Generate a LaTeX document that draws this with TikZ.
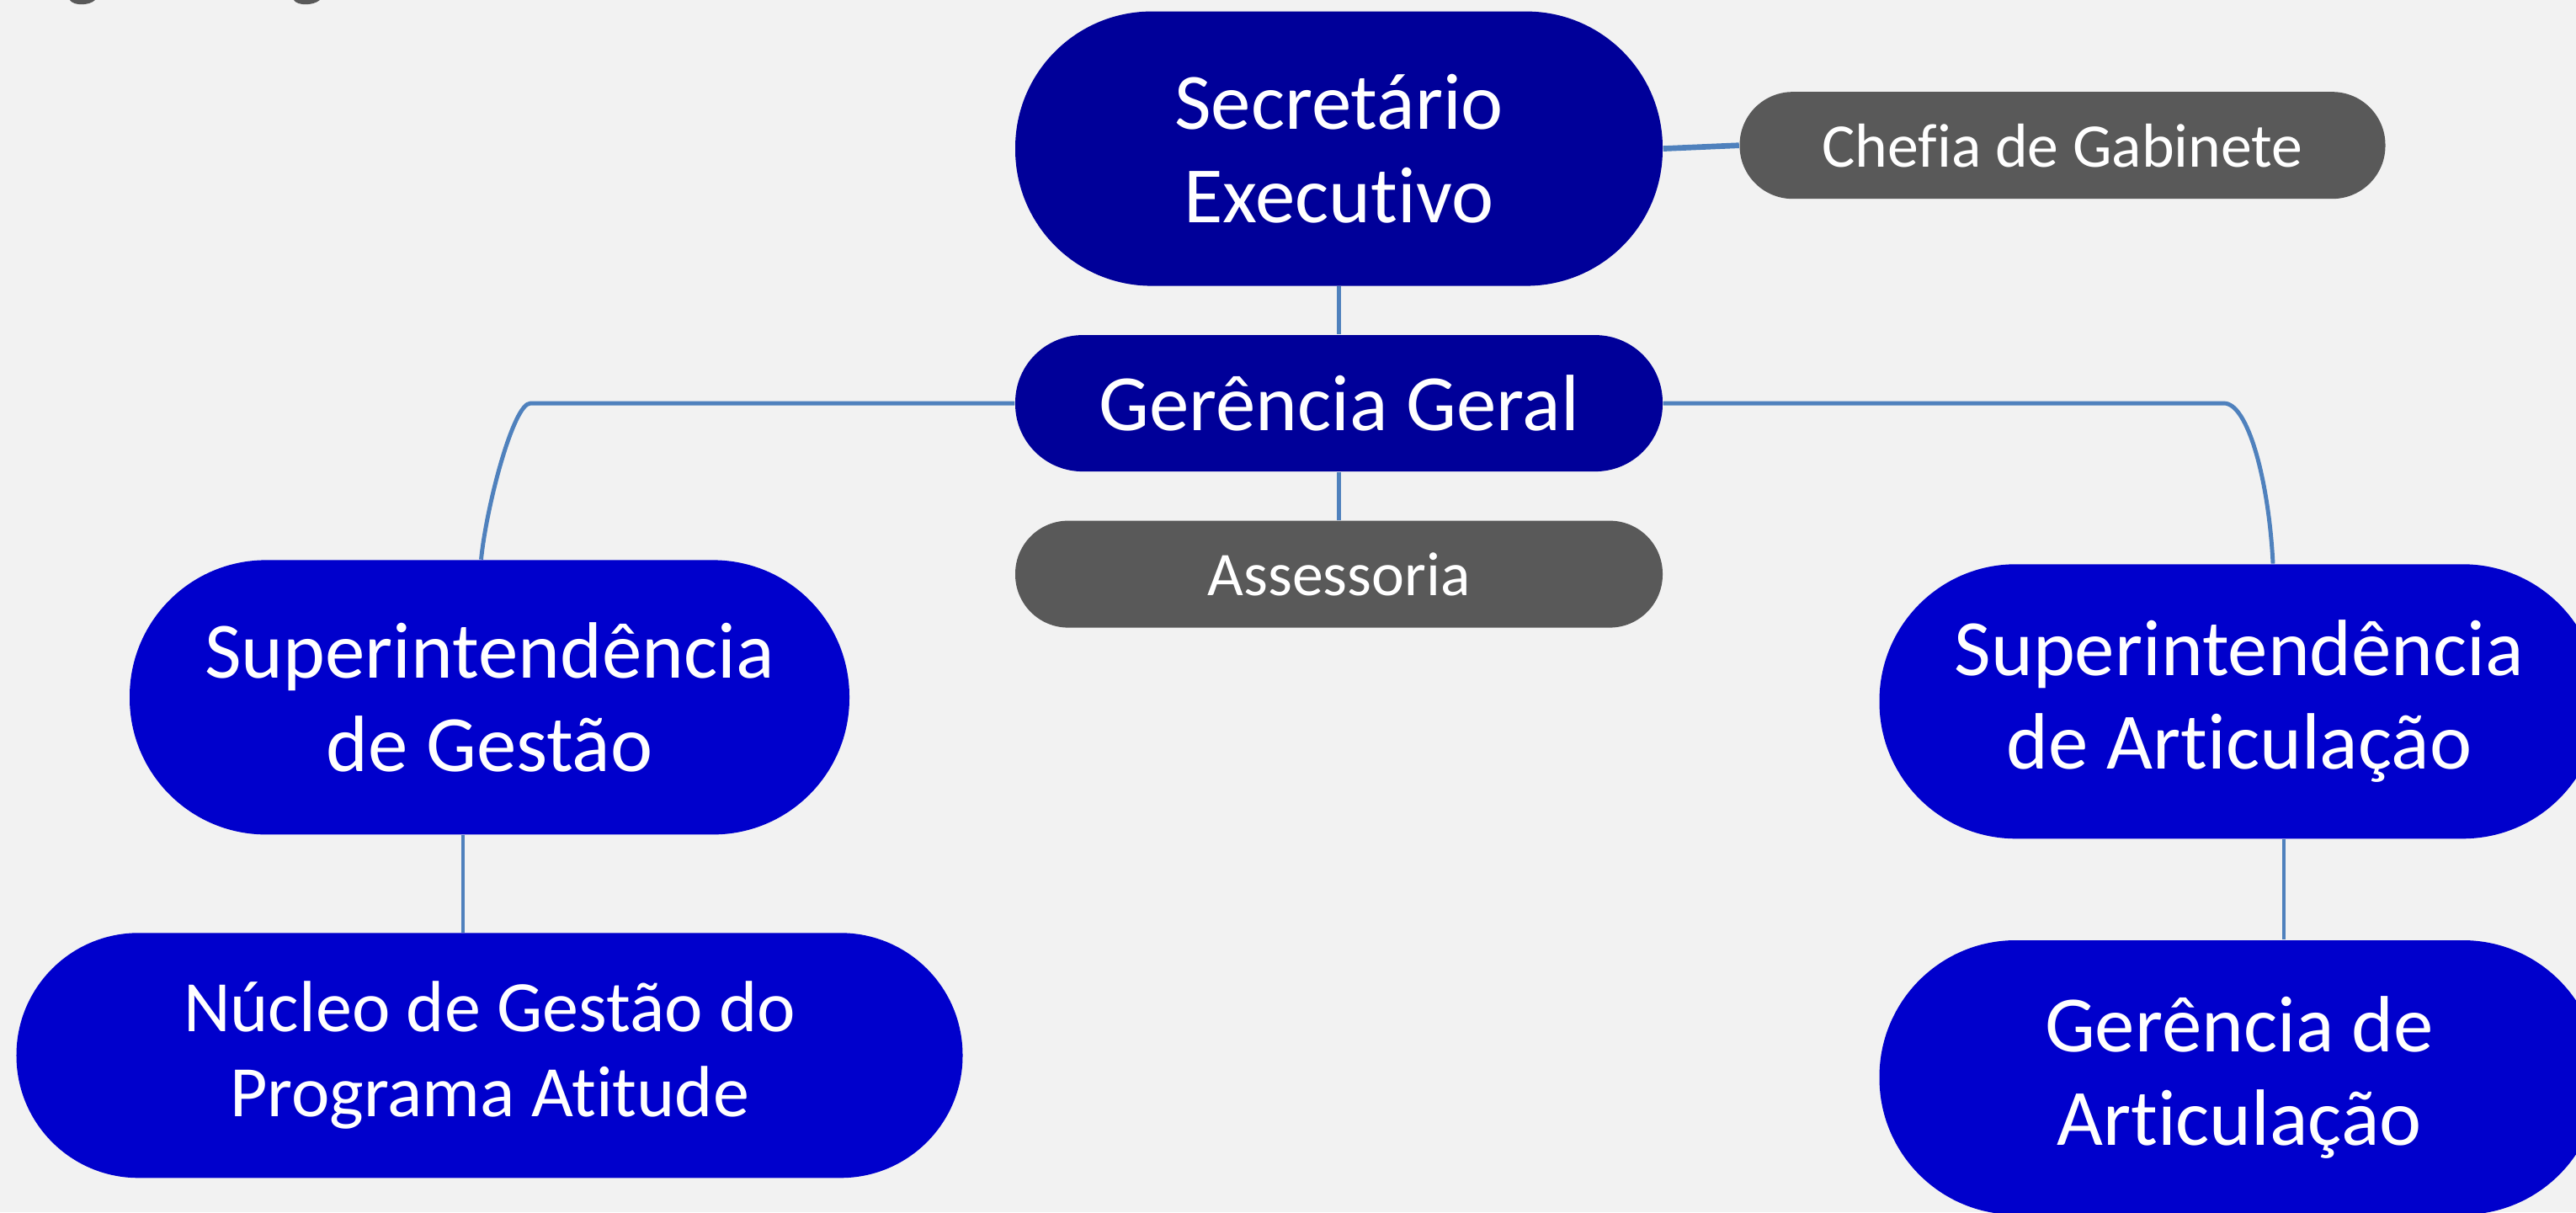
\documentclass[tikz,border=0pt]{standalone}
\usepackage{fontspec}
\setmainfont{Carlito}[Ligatures=NoCommon]
\usetikzlibrary{calc, positioning}

\definecolor{navy}{HTML}{000099}
\definecolor{royal}{HTML}{0000CC}
\definecolor{slate}{HTML}{595959}
\definecolor{linkblue}{HTML}{4F81BD}
\definecolor{paper}{HTML}{F2F2F2}

\begin{document}
\begin{tikzpicture}[x=1cm, y=1cm,
    unit/.style={rectangle, text=white, align=center, inner sep=0pt},
    bigunit/.style={unit, minimum height=3.26cm, rounded corners=1.62cm,
      font=\fontsize{27}{31.6}\selectfont},
    grayunit/.style={unit, fill=slate, minimum height=1.27cm, rounded corners=0.63cm,
      font=\fontsize{21}{25}\selectfont},
    link/.style={draw=linkblue, line width=1.4pt}]
  \useasboundingbox (0,0) rectangle (30.6,14.4);
  \fill[paper] (0,0) rectangle (30.6,14.4);
  % cut-off marks at the top edge
  \fill[slate] (0.83,14.4) .. controls (0.87,14.33) and (1.06,14.33) .. (1.13,14.4) -- cycle;
  \fill[slate] (3.49,14.4) .. controls (3.53,14.33) and (3.72,14.33) .. (3.80,14.4) -- cycle;

  \node[bigunit, fill=navy, minimum width=7.69cm] (sec) at (15.905,12.634) {Secretário\\Executivo};
  \node[grayunit, minimum width=7.67cm] (chefia) at (24.50,12.673) {Chefia de Gabinete};
  \node[unit, fill=navy, minimum width=7.69cm, minimum height=1.62cm, rounded corners=0.8cm,
    font=\fontsize{27}{31.6}\selectfont] (geral) at (15.905,9.609) {Gerência Geral};
  \node[grayunit, minimum width=7.69cm] (assess) at (15.905,7.579) {Assessoria};
  \node[bigunit, fill=royal, minimum width=8.55cm] (supG) at (5.815,6.116) {Superintendência\\de Gestão};
  \node[bigunit, fill=royal, minimum width=8.55cm] (supA) at (26.60,6.067) {Superintendência\\de Articulação};
  \node[bigunit, fill=royal, minimum width=11.24cm, minimum height=2.91cm, rounded corners=1.45cm,
    font=\fontsize{24.5}{28.7}\selectfont] (nucleo) at (5.815,1.862) {Núcleo de Gestão do\\Programa Atitude};
  \node[bigunit, fill=royal, minimum width=8.55cm] (gerA) at (26.60,1.60) {Gerência de\\Articulação};

  \draw[link, line width=1.9pt] (sec.east) -- (chefia.west);
  \foreach \a/\b in {sec/geral, geral/assess} {
    \draw[link] (\a) -- (\b);
  }
  \coordinate (kneeL) at (6.30,9.609);
  \coordinate (kneeR) at (26.42,9.609);
  \draw[link] (geral.west) -- (kneeL) .. controls (6.10,9.609) and (5.78,8.4) .. ([xshift=-1mm]supG.north);
  \draw[link] (geral.east) -- (kneeR) .. controls (26.70,9.609) and (26.95,8.7) .. ([xshift=4mm]supA.north);
  \draw[link] ([xshift=-3.15mm]supG.south) -- ([xshift=-3.15mm]supG.south |- nucleo.north);
  \draw[link] ([xshift=5.3mm]supA.south) -- ([xshift=5.3mm]supA.south |- gerA.north);
\end{tikzpicture}
\end{document}
